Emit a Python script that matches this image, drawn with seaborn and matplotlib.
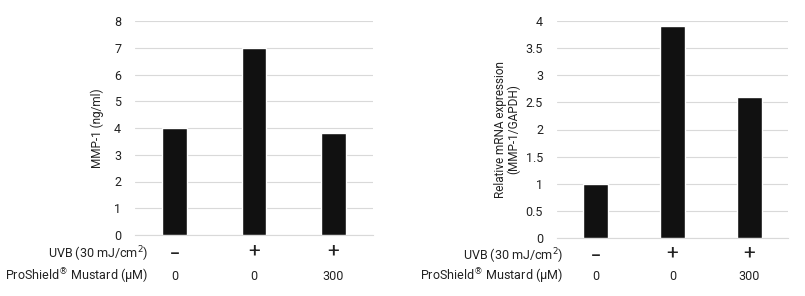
import matplotlib
matplotlib.use("Agg")
import matplotlib.pyplot as plt
import matplotlib.transforms as mtransforms
import seaborn as sns
import pandas as pd
import numpy as np

groups = ["ctrl", "uvb", "uvb_ps"]
uvb_signs = ["-", "+", "+"]
mustard_doses = ["0", "0", "300"]
mmp1_protein = [4.0, 7.0, 3.8]
mmp1_mrna = [1.0, 3.9, 2.6]

sns.set_theme(style="white")
plt.rcParams["font.family"] = ["Roboto", "DejaVu Sans"]

fig = plt.figure(figsize=(8.05, 2.96), dpi=100)
W, H = 805, 296
ax1 = fig.add_axes([135 / W, 1 - 235 / H, (373 - 135) / W, (235 - 21) / H])
ax2 = fig.add_axes([557 / W, 1 - 238 / H, (788 - 557) / W, (238 - 21) / H])

txt = "#222222"

def panel(ax, values, ymax, ystep, ylabel, ticks_fmt, label_x_px, ylabel_x_px,
          ax_left_px, ax_w_px, uvb_y_px):
    df = pd.DataFrame({"group": groups, "value": values})
    sns.barplot(data=df, x="group", y="value", color="#111111", width=0.315,
                saturation=1, ax=ax, zorder=3)
    ax.set_ylim(0, ymax)
    ax.set_xlim(-0.5, 2.5)
    ticks = np.arange(0, ymax + 1e-9, ystep)
    ax.set_yticks(ticks)
    ax.set_yticklabels([ticks_fmt(t) for t in ticks], fontsize=9, color=txt)
    ax.tick_params(axis="y", length=0, pad=10)
    ax.tick_params(axis="x", length=0)
    ax.set_xticks([])
    ax.set_xlabel("")
    ax.set_ylabel(ylabel, fontsize=8.5, color=txt, linespacing=1.05)
    ax.yaxis.label.set_va("center")
    ax.yaxis.set_label_coords((ylabel_x_px - ax_left_px) / ax_w_px, 0.5)
    ax.grid(axis="y", color="#d9d9d9", linewidth=0.8, zorder=0)
    ax.set_axisbelow(True)
    for s in ["top", "right", "left"]:
        ax.spines[s].set_visible(False)
    ax.spines["bottom"].set_color("#d9d9d9")
    ax.spines["bottom"].set_linewidth(0.8)
    trans = mtransforms.blended_transform_factory(ax.transData, fig.transFigure)
    for i, (s, d) in enumerate(zip(uvb_signs, mustard_doses)):
        if s == "-":
            ax.text(i, 1 - (uvb_y_px + 0.5) / H, "\u2013", transform=trans, ha="center",
                    va="center", fontsize=11, color=txt, fontweight="bold")
        else:
            ax.text(i, 1 - (uvb_y_px - 2) / H, "+", transform=trans, ha="center",
                    va="center", fontsize=15, color=txt)
        ax.text(i, 1 - 276 / H, d, transform=trans, ha="center", va="center",
                fontsize=9, color=txt)
    fig.text(label_x_px / W, 1 - (uvb_y_px + 1) / H, "UVB (30 mJ/cm$^{2}$)", ha="right",
             va="center", fontsize=9, color=txt)
    fig.text(label_x_px / W, 1 - 276 / H, "ProShield$^{\u00ae}$ Mustard (\u00b5M)",
             ha="right", va="center", fontsize=9, color=txt)

def fmt_int(t):
    return f"{int(t)}"

def fmt_half(t):
    return f"{int(t)}" if t == int(t) else f"{t:g}"

panel(ax1, mmp1_protein, 8, 1, "MMP-1 (ng/ml)", fmt_int, 148, 97, 135, 238, 253)
panel(ax2, mmp1_mrna, 4, 0.5, "Relative mRNA expression\n(MMP-1/GAPDH)", fmt_half,
      563, 507, 557, 231, 255)

fig.savefig("out.png", dpi=100)
